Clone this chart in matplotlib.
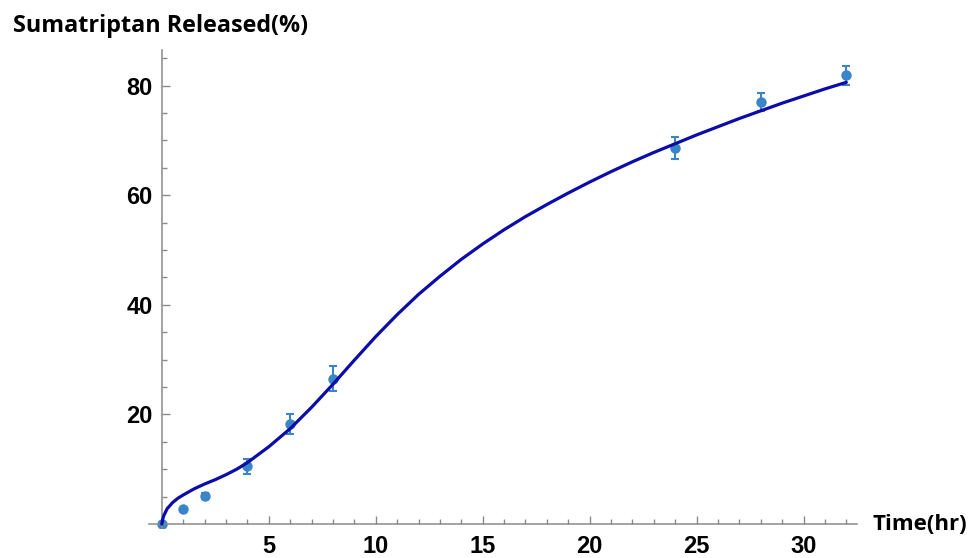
import matplotlib.pyplot as plt
from matplotlib.ticker import MultipleLocator, FixedLocator

# measured release data (mean +/- sd)
time_hr = [0, 1, 2, 4, 6, 8, 24, 28, 32]
released = [0, 2.7, 5.1, 10.5, 18.2, 26.5, 68.7, 77.0, 81.9]
released_err = [0, 0.3, 0.6, 1.3, 1.8, 2.3, 2.0, 1.6, 1.7]

# fitted curve
fit_t = [0, 0.05, 0.1, 0.25, 0.5, 0.75, 1, 1.5, 2, 2.5, 3, 3.5, 4, 5, 6, 7, 8,
         9, 10, 11, 12, 13, 14, 15, 16, 17, 18, 19, 20, 21, 22, 23, 24, 25,
         26, 27, 28, 29, 30, 31, 32]
fit_y = [0, 1.0, 1.6, 2.8, 3.9, 4.7, 5.3, 6.4, 7.3, 8.1, 9.0, 10.0, 11.2, 14.1,
         17.4, 21.3, 25.5, 29.9, 34.2, 38.2, 41.9, 45.2, 48.3, 51.1, 53.7, 56.1,
         58.3, 60.4, 62.4, 64.3, 66.1, 67.8, 69.4, 71.0, 72.5, 74.0, 75.4, 76.8,
         78.1, 79.4, 80.6]

x_major = [5, 10, 15, 20, 25, 30]
y_major = [20, 40, 60, 80]

axis_grey = '#8a8a8a'
point_blue = '#3a85c8'
curve_blue = '#0c0ca8'

fig = plt.figure(figsize=(9.8, 5.58), dpi=100)
ax = fig.add_axes([149 / 980, (558 - 528.4) / 558, 708 / 980, (528.4 - 50) / 558])

ax.errorbar(time_hr, released, yerr=released_err, fmt='o', color=point_blue,
            ecolor=point_blue, markersize=6.5, elinewidth=1.5, capsize=3,
            capthick=1.5, zorder=2)
ax.plot(fit_t, fit_y, color=curve_blue, linewidth=2.3, zorder=3,
        solid_capstyle='round')

ax.set_xlim(-0.6, 32.5)
ax.set_ylim(-0.8, 86.5)

for side in ['top', 'right']:
    ax.spines[side].set_visible(False)
ax.spines['left'].set_position(('data', 0))
ax.spines['bottom'].set_position(('data', 0))
for side in ['left', 'bottom']:
    ax.spines[side].set_color(axis_grey)
    ax.spines[side].set_linewidth(1.1)

ax.xaxis.set_major_locator(FixedLocator(x_major))
ax.xaxis.set_minor_locator(MultipleLocator(1))
ax.yaxis.set_major_locator(FixedLocator(y_major))
ax.yaxis.set_minor_locator(MultipleLocator(5))

ax.tick_params(which='both', direction='in', color=axis_grey, width=1.0)
ax.tick_params(which='major', length=6)
ax.tick_params(which='minor', length=3.5)
ax.tick_params(axis='x', which='major', pad=8)
ax.tick_params(axis='y', which='major', pad=6.5)

for lab in ax.get_xticklabels() + ax.get_yticklabels():
    lab.set_fontfamily('Liberation Sans')
    lab.set_fontweight('bold')
    lab.set_fontsize(17)

fig.text(161 / 980, (558 - 32) / 558, 'Sumatriptan Released(%)',
         ha='center', va='baseline', fontsize=16.8, fontweight='bold',
         family='Open Sans')
fig.text(872 / 980, (558 - 524) / 558, 'Time(hr)', ha='left', va='center',
         fontsize=16, fontweight='bold', family='Open Sans')

fig.savefig('out.png', dpi=100)
